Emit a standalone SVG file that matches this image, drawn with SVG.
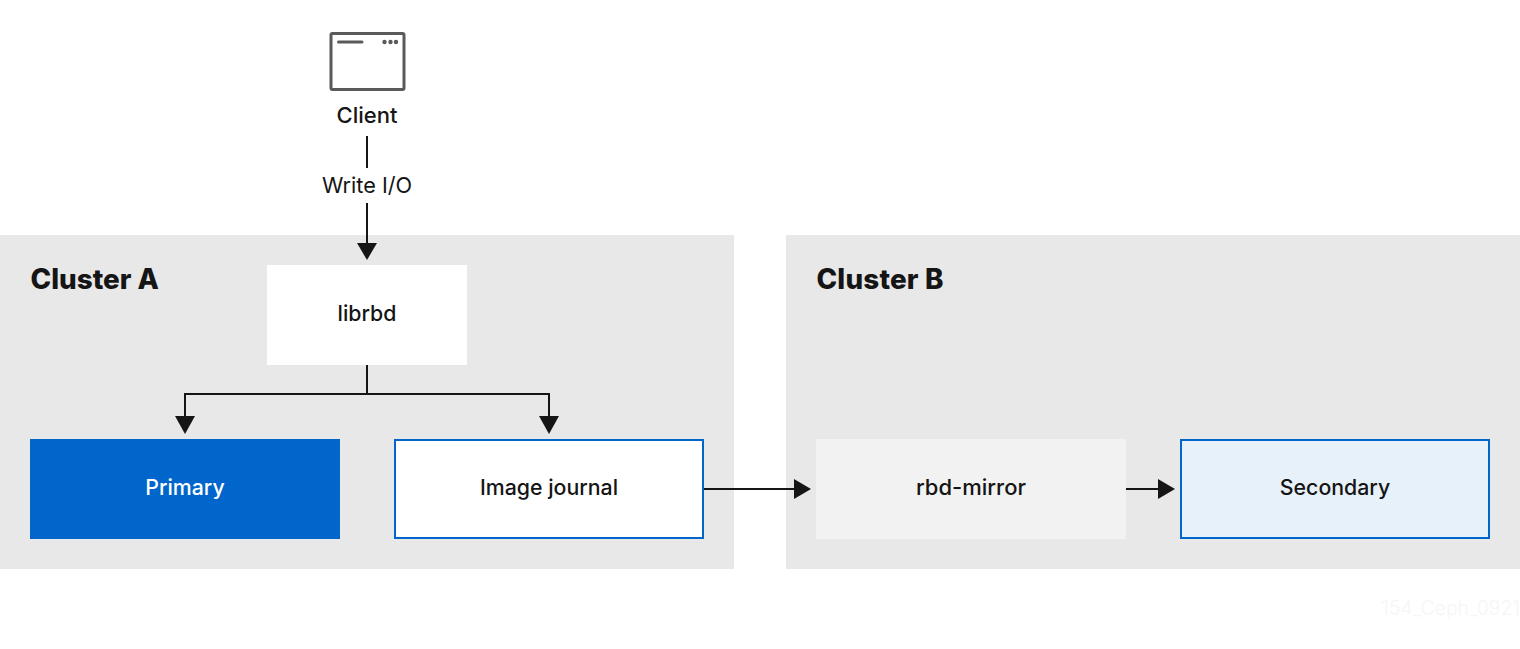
<svg xmlns="http://www.w3.org/2000/svg" width="1520" height="649" viewBox="0 0 1520 649">
<style>
text{font-family:"Inter","Liberation Sans",sans-serif;fill:#151515;text-anchor:middle}
.label{font-size:21.300px;font-weight:500}
.title{font-size:27.800px;font-weight:800;text-anchor:start}
.line{fill:none;stroke:#151515;stroke-width:2}
.head{fill:#151515;stroke:none}
.box{stroke:#0066cc;stroke-width:2}
</style>
<rect width="1520" height="649" fill="#fff"/>
<g id="cluster-a"><rect x="0" y="235" width="734" height="334" fill="#e8e8e8"/><text class="title" x="30.500" y="288.700">Cluster A</text></g>
<g id="cluster-b"><rect x="786" y="235" width="734" height="334" fill="#e8e8e8"/><text class="title" x="816.500" y="288.700" style="letter-spacing:.2px">Cluster B</text></g>
<g id="client">
<rect x="331" y="33.500" width="73" height="56" rx="1.500" fill="#fff" stroke="#5a5a5a" stroke-width="3"/>
<path d="M338.500 42H362" fill="none" stroke="#5a5a5a" stroke-width="3" stroke-linecap="round"/>
<circle cx="384.500" cy="42" r="2.200" fill="#5a5a5a"/><circle cx="390.500" cy="42" r="2.200" fill="#5a5a5a"/><circle cx="396" cy="42" r="2.200" fill="#5a5a5a"/>
<text x="367" y="122.500" style="font-size:22px;font-weight:550">Client</text>
</g>
<g id="librbd"><rect x="267" y="265" width="200" height="100" fill="#fff"/><text class="label" x="367" y="321">librbd</text></g>
<g id="primary"><rect x="30" y="439" width="310" height="100" fill="#0066cc"/><text class="label" x="185" y="495.300" style="fill:#fff">Primary</text></g>
<g id="image-journal"><rect class="box" x="395" y="440" width="308" height="98" fill="#fff"/><text class="label" x="549" y="495.300">Image journal</text></g>
<g id="rbd-mirror"><rect x="816" y="439" width="310" height="100" fill="#f2f2f2"/><text class="label" x="971" y="495.300" style="font-size:22px">rbd-mirror</text></g>
<g id="secondary"><rect class="box" x="1181" y="440" width="308" height="98" fill="#e7f1fa"/><text class="label" x="1335" y="495.300">Secondary</text></g>
<g id="connectors">
<path class="line" d="M367 136V168M367 203V244"/><path class="head" d="M357 243H377L367 260Z"/>
<path class="line" d="M367 365V394M185 418V394H549V418"/>
<path class="head" d="M175 416H195L185 434Z"/><path class="head" d="M539 416H559L549 434Z"/>
<path class="line" d="M704 489H795"/><path class="head" d="M794 479V499L811 489Z"/>
<path class="line" d="M1126 489H1159"/><path class="head" d="M1158 479V499L1175 489Z"/>
</g>
<text x="367" y="192.500" style="font-size:21.700px;font-weight:400">Write I/O</text>
<text x="1520" y="615" style="font-size:19.400px;font-weight:300;fill:#f6f6f6;text-anchor:end">154_Ceph_0921</text>
</svg>
